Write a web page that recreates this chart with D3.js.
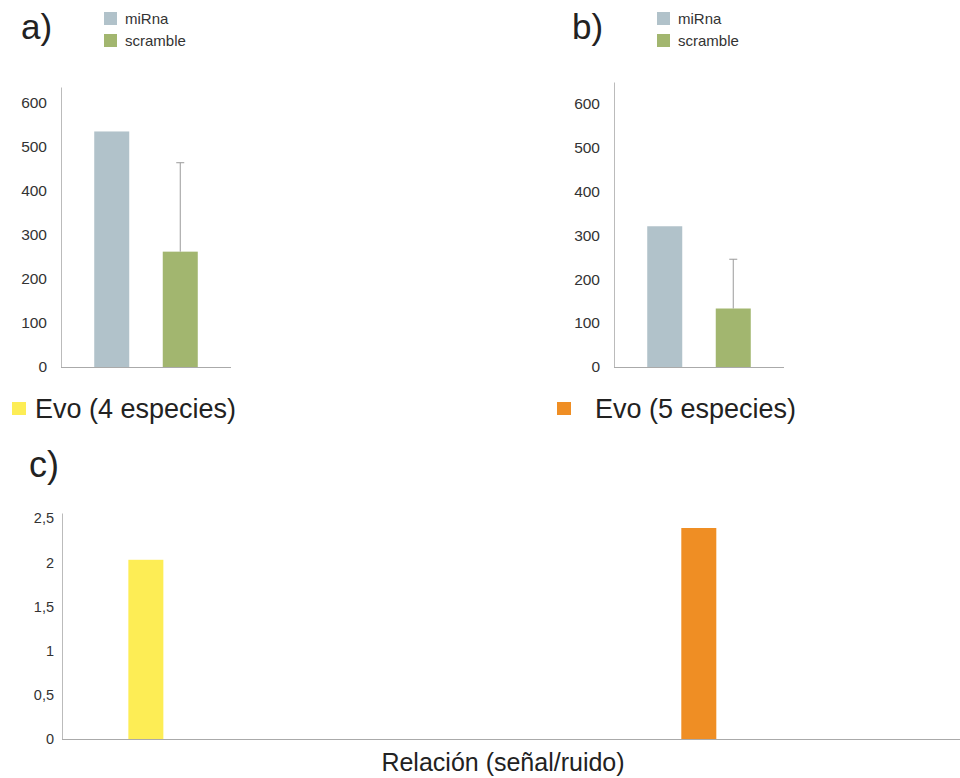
<!DOCTYPE html>
<html>
<head>
<meta charset="utf-8">
<script src="https://cdn.jsdelivr.net/npm/d3@7"></script>
<style>
  body { margin: 0; background: white; }
  text { font-family: "Liberation Sans", Arial, sans-serif; fill: #333; }
</style>
</head>
<body>
<div id="chart_area"></div>
<script>

// Data
var series = ["miRna", "scramble"];
var seriesColors = ["#b1c2ca", "#a2b66f"];
var valuesA = [535, 262];
var errorsA = [0, 202];
var valuesB = [320, 133];
var errorsB = [0, 112];
var ticksAB = [0, 100, 200, 300, 400, 500, 600];

var evoNames = ["Evo (4 especies)", "Evo (5 especies)"];
var evoColors = ["#fded55", "#ef8e24"];
var ratio = [2.03, 2.39];
var ticksC = [0, 0.5, 1, 1.5, 2, 2.5];
var xLabelC = "Relación (señal/ruido)";

var svg = d3.select("#chart_area")
            .append("svg")
              .attr("width", 960)
              .attr("height", 778);

// Draw a small bar chart with error bars (panels a and b)
function draw_panel(opts) {

  var yScale = d3.scaleLinear()
                  .domain([0, opts.yMax])
                  .range([367, opts.yTop]);

  var xScale = d3.scaleBand()
                  .domain(series)
                  .range([opts.x0, opts.x0 + 170])
                  .paddingInner(0.489)
                  .paddingOuter(0.485);

  var g = svg.append("g");

  // panel letter
  g.append("text")
    .attr("x", opts.letterX)
    .attr("y", 39)
    .style("font-size", "35px")
    .style("fill", "#222")
    .text(opts.letter);

  // legend
  series.forEach(function(s, i) {
    g.append("rect")
      .attr("x", opts.legendX)
      .attr("y", 12 + i * 22)
      .attr("width", 13)
      .attr("height", 13)
      .attr("fill", seriesColors[i]);
    g.append("text")
      .attr("x", opts.legendX + 21)
      .attr("y", 24 + i * 22)
      .style("font-size", "15px")
      .text(s);
  });

  // y axis
  var yAxis = d3.axisLeft(yScale)
                .tickValues(ticksAB)
                .tickSize(0)
                .tickPadding(14)
                .tickFormat(d3.format("d"));
  var ya = g.append("g")
            .attr("transform", "translate(" + opts.x0 + ",0)")
            .call(yAxis);
  ya.select(".domain").attr("stroke", "#bbb");
  ya.selectAll("text")
    .style("font-size", "15.5px")
    .style("fill", "#333");

  // bars
  g.selectAll(".bar")
    .data(opts.values)
    .enter()
    .append("rect")
      .attr("x", function(d, i) { return xScale(series[i]); })
      .attr("y", function(d) { return yScale(d); })
      .attr("width", xScale.bandwidth())
      .attr("height", function(d) { return 367 - yScale(d); })
      .attr("fill", function(d, i) { return seriesColors[i]; });

  // error bars
  opts.values.forEach(function(v, i) {
    if (opts.errors[i] > 0) {
      var cx = xScale(series[i]) + xScale.bandwidth() / 2;
      g.append("line")
        .attr("x1", cx).attr("x2", cx)
        .attr("y1", yScale(v))
        .attr("y2", yScale(v + opts.errors[i]))
        .attr("stroke", "#9a9a9a");
      g.append("line")
        .attr("x1", cx - 4).attr("x2", cx + 4)
        .attr("y1", yScale(v + opts.errors[i]))
        .attr("y2", yScale(v + opts.errors[i]))
        .attr("stroke", "#9a9a9a");
    }
  });

  // x axis line
  g.append("line")
    .attr("x1", opts.x0)
    .attr("x2", opts.x0 + 170)
    .attr("y1", 367.5)
    .attr("y2", 367.5)
    .attr("stroke", "#aaa");
}

draw_panel({letter: "a)", letterX: 21, legendX: 104, x0: 61,
            yMax: 636, yTop: 87, values: valuesA, errors: errorsA});
draw_panel({letter: "b)", letterX: 572, legendX: 657, x0: 614,
            yMax: 648, yTop: 82, values: valuesB, errors: errorsB});

// Legend for panel c
var legendC = [{x: 12, tx: 35}, {x: 557, tx: 595}];
evoNames.forEach(function(name, i) {
  svg.append("rect")
    .attr("x", legendC[i].x)
    .attr("y", 402)
    .attr("width", 14)
    .attr("height", 13)
    .attr("fill", evoColors[i]);
  svg.append("text")
    .attr("x", legendC[i].tx)
    .attr("y", 418)
    .style("font-size", "27px")
    .style("fill", "#222")
    .text(name);
});

// Panel c
svg.append("text")
  .attr("x", 29)
  .attr("y", 477)
  .style("font-size", "36px")
  .style("fill", "#222")
  .text("c)");

var yScaleC = d3.scaleLinear()
                .domain([0, 2.56])
                .range([739, 513]);

var xScaleC = d3.scaleBand()
                .domain(evoNames)
                .range([62, 782.5])
                .paddingInner(0.937)
                .paddingOuter(0.12);

var yAxisC = d3.axisLeft(yScaleC)
               .tickValues(ticksC)
               .tickSize(0)
               .tickPadding(8)
               .tickFormat(function(d) { return String(d).replace(".", ","); });
var yc = svg.append("g")
            .attr("transform", "translate(62,0)")
            .call(yAxisC);
yc.select(".domain").attr("stroke", "#bbb");
yc.selectAll("text")
  .style("font-size", "14.5px")
  .style("fill", "#333");

svg.selectAll(".barC")
   .data(ratio)
   .enter()
   .append("rect")
     .attr("x", function(d, i) { return xScaleC(evoNames[i]); })
     .attr("y", function(d) { return yScaleC(d); })
     .attr("width", 35)
     .attr("height", function(d) { return 739 - yScaleC(d); })
     .attr("fill", function(d, i) { return evoColors[i]; });

svg.append("line")
  .attr("x1", 62)
  .attr("x2", 960)
  .attr("y1", 739.5)
  .attr("y2", 739.5)
  .attr("stroke", "#aaa");

svg.append("text")
  .attr("x", 503)
  .attr("y", 771)
  .style("text-anchor", "middle")
  .style("font-size", "25px")
  .style("fill", "#222")
  .text(xLabelC);

</script>
</body>
</html>
